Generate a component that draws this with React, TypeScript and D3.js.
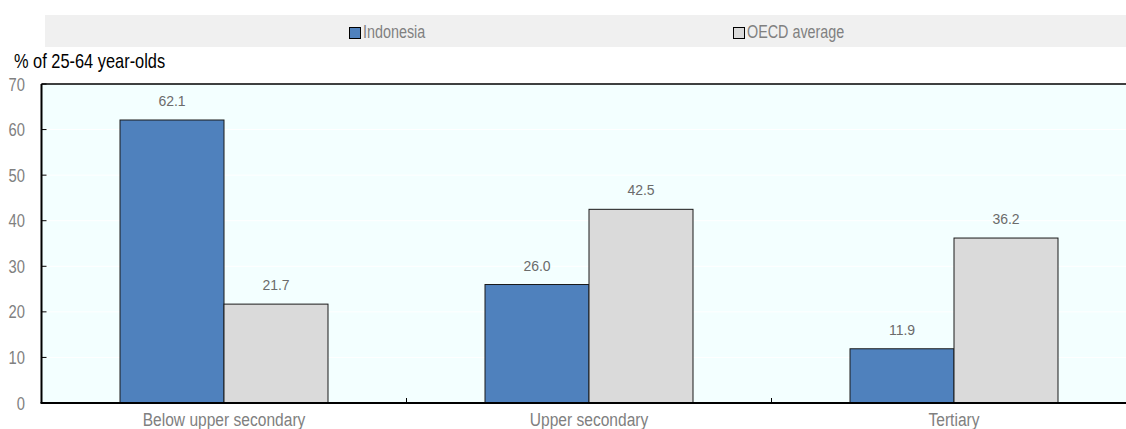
import React from "react";
import * as d3 from "d3";

const categories = ["Below upper secondary", "Upper secondary", "Tertiary"];
const seriesNames = ["Indonesia", "OECD average"];
const indonesia = [62.1, 26.0, 11.9];
const oecd = [21.7, 42.5, 36.2];
const yTicks = [0, 10, 20, 30, 40, 50, 60, 70];
const colors = ["#4F81BD", "#DADADA"];

const SX = 0.82;

function NT(props: { x: number; y: number; size: number; fill: string; anchor?: string; children: any }) {
  return (
    <text
      transform={`translate(${props.x},${props.y}) scale(${SX},1)`}
      fontSize={props.size}
      fill={props.fill}
      textAnchor={props.anchor || "start"}
    >
      {props.children}
    </text>
  );
}

export default function App() {
  const W = 1126, H = 429;
  const left = 41.5, top = 84, bottom = 403, right = 1136.5;
  const x = d3.scaleBand<string>().domain(categories).range([left, right]);
  const y = d3.scaleLinear().domain([0, 70]).range([bottom, top]);
  const bw = 104;
  const series = [indonesia, oecd];
  const font = "'Liberation Sans', Arial, sans-serif";
  return (
    <svg width={W} height={H} style={{ position: "absolute", left: 0, top: 0, fontFamily: font }}>
      <rect x={0} y={0} width={W} height={H} fill="#fff" />
      {/* legend */}
      <rect x={45} y={15} width={W - 45} height={32} fill="#F0F0F0" />
      {seriesNames.map((n, i) => {
        const lx = [349, 733][i];
        return (
          <g key={n}>
            <rect x={lx + 0.5} y={27.5} width={11} height={11} fill={colors[i]} stroke="#000" strokeWidth={1} />
            <NT x={lx + 14} y={38} size={17.5} fill="#808080">{n}</NT>
          </g>
        );
      })}
      <NT x={14} y={68} size={20} fill="#000">% of 25-64 year-olds</NT>
      {/* plot bg */}
      <rect x={left} y={top} width={W - left} height={bottom - top} fill="#F3FFFF" />
      {yTicks.slice(1, -1).map((t) => (
        <line key={t} x1={left} x2={W} y1={y(t)} y2={y(t)} stroke="#fff" strokeWidth={1} />
      ))}
      <line x1={left} x2={W} y1={top} y2={top} stroke="#000" strokeWidth={1.5} />
      {yTicks.map((t) => (
        <g key={t}>
          <NT x={25} y={y(t) + 6.5} size={18} anchor="end" fill="#808080">{t}</NT>
          <line x1={left} x2={left + 5} y1={y(t)} y2={y(t)} stroke="#000" strokeWidth={1} />
        </g>
      ))}
      {categories.map((c, ci) => {
        const cx = (x(c) as number) + x.bandwidth() / 2;
        return (
          <g key={c}>
            {series.map((s, si) => {
              const bx = cx - bw + si * bw;
              return (
                <g key={si}>
                  <rect x={bx} y={y(s[ci])} width={bw} height={bottom - y(s[ci])} fill={colors[si]} stroke="#1a1a1a" strokeWidth={1} />
                  <text x={bx + bw / 2} y={y(s[ci]) - 14} textAnchor="middle" fontSize={14} fill="#6b6b6b">{s[ci].toFixed(1)}</text>
                </g>
              );
            })}
            <NT x={cx} y={bottom + 23} size={19} anchor="middle" fill="#808080">{c}</NT>
            {ci > 0 && <line x1={x(c) as number} x2={x(c) as number} y1={bottom} y2={bottom - 5} stroke="#000" />}
          </g>
        );
      })}
      <line x1={left} x2={left} y1={top} y2={bottom} stroke="#000" strokeWidth={2} />
      <line x1={left - 1} x2={W} y1={bottom} y2={bottom} stroke="#000" strokeWidth={2} />
    </svg>
  );
}
